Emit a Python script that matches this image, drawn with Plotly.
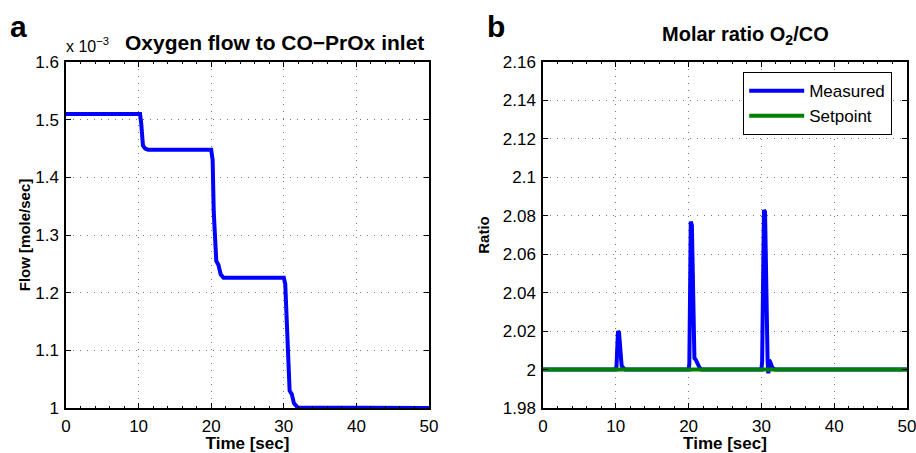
import plotly.graph_objects as go

# Panel a: oxygen flow (x 1e-3 mole/sec)
flow_time = [0, 10.2, 10.35, 10.45, 10.6, 10.9, 11.3, 20.0, 20.2, 20.35, 20.5, 20.7, 21.0, 21.3, 21.7, 30.0, 30.2, 30.4, 30.6, 30.8, 31.1, 31.4, 31.9, 50]
flow_vals = [1.51, 1.51, 1.495, 1.47, 1.455, 1.45, 1.448, 1.448, 1.43, 1.34, 1.28, 1.255, 1.248, 1.232, 1.226, 1.226, 1.215, 1.15, 1.06, 1.03, 1.024, 1.008, 1.001, 1.0]

# Panel b: molar ratio O2/CO
ratio_time = [0, 10.0, 10.1, 10.2, 10.3, 10.45, 10.55, 10.65, 10.8, 11.0, 11.3, 20.0, 20.1, 20.2, 20.3, 20.45, 20.55, 20.65, 20.8, 21.0, 21.2, 21.5, 21.8, 30.0, 30.1, 30.2, 30.35, 30.5, 30.6, 30.7, 30.85, 30.95, 31.05, 31.2, 31.5, 31.9, 50]
ratio_meas = [2.0, 2.0, 2.002, 2.01, 2.02, 2.019, 2.012, 2.004, 2.002, 2.001, 2.0, 2.0, 2.003, 2.04, 2.077, 2.075, 2.05, 2.02, 2.006, 2.005, 2.003, 2.001, 2.0, 2.0, 2.004, 2.05, 2.083, 2.082, 2.05, 2.02, 2.005, 1.998, 2.005, 2.004, 2.001, 2.0, 2.0]
setpoint_time = [0, 50]
setpoint_vals = [2.0, 2.0]

x_ticks = [0, 10, 20, 30, 40, 50]
flow_ticks = [1, 1.1, 1.2, 1.3, 1.4, 1.5, 1.6]
flow_labels = ["1", "1.1", "1.2", "1.3", "1.4", "1.5", "1.6"]
ratio_ticks = [1.98, 2.0, 2.02, 2.04, 2.06, 2.08, 2.1, 2.12, 2.14, 2.16]
ratio_labels = ["1.98", "2", "2.02", "2.04", "2.06", "2.08", "2.1", "2.12", "2.14", "2.16"]

FONT = "Liberation Sans, Arial, Helvetica, sans-serif"

fig = go.Figure()
fig.add_trace(go.Scatter(x=flow_time, y=flow_vals, mode="lines",
                         line=dict(color="#0000ff", width=4), showlegend=False,
                         xaxis="x", yaxis="y"))
fig.add_trace(go.Scatter(x=ratio_time, y=ratio_meas, mode="lines", name="Measured",
                         line=dict(color="#0000ff", width=4), xaxis="x2", yaxis="y2"))
fig.add_trace(go.Scatter(x=setpoint_time, y=setpoint_vals, mode="lines", name="Setpoint",
                         line=dict(color="#008000", width=4), xaxis="x2", yaxis="y2"))

ax_common = dict(showline=True, linecolor="black", linewidth=1.5, mirror="ticks",
                 ticks="inside", ticklen=5, tickcolor="black", automargin=False,
                 ticklabeloverflow="allow",
                 showgrid=True, gridcolor="#777777", griddash="1px,6px", gridwidth=1,
                 zeroline=False, tickfont=dict(family=FONT, size=17, color="black"))
minor = dict(ticks="inside", ticklen=2, dtick=2, tickcolor="black", showgrid=False)

fy0, fy1 = 45/453, 391/453
fig.update_layout(
    width=916, height=453,
    margin=dict(l=0, r=0, t=0, b=0),
    paper_bgcolor="white", plot_bgcolor="white",
    font=dict(family=FONT, color="black"),
    xaxis=dict(domain=[66/916, 429/916], range=[0, 50], tickvals=x_ticks, anchor="y",
               minor=minor, ticklabelstandoff=2,
               title=dict(text="<b>Time [sec]</b>", font=dict(size=17), standoff=4), **ax_common),
    yaxis=dict(domain=[fy0, fy1], range=[1, 1.6], tickvals=flow_ticks, ticktext=flow_labels,
               anchor="x", ticklabelstandoff=2,
               title=dict(text="<b>Flow [mole/sec]</b>", font=dict(size=15), standoff=1), **ax_common),
    xaxis2=dict(domain=[543/916, 907/916], range=[0, 50], tickvals=x_ticks, anchor="y2",
                minor=minor, ticklabelstandoff=2,
                title=dict(text="<b>Time [sec]</b>", font=dict(size=17), standoff=4), **ax_common),
    yaxis2=dict(domain=[fy0, fy1], range=[1.98, 2.16], tickvals=ratio_ticks, ticktext=ratio_labels,
                anchor="x2", ticklabelstandoff=2,
                title=dict(text="<b>Ratio</b>", font=dict(size=15), standoff=10), **ax_common),
    legend=dict(x=892/916, y=1-72/453, xanchor="right", yanchor="top", xref="paper", yref="paper",
                bordercolor="black", borderwidth=1.2, bgcolor="white", itemwidth=55,
                font=dict(family=FONT, size=17, color="black"), tracegroupgap=0),
    showlegend=True,
    annotations=[
        dict(text="<b>a</b>", x=8/916, y=1-27/453, xref="paper", yref="paper",
             xanchor="left", yanchor="middle", showarrow=False, font=dict(size=30)),
        dict(text="<b>b</b>", x=485/916, y=1-27/453, xref="paper", yref="paper",
             xanchor="left", yanchor="middle", showarrow=False, font=dict(size=30)),
        dict(text="<b>Oxygen flow to CO\u2212PrOx inlet</b>", x=274/916, y=1-42/453,
             xref="paper", yref="paper", xanchor="center", yanchor="middle",
             showarrow=False, font=dict(size=21)),
        dict(text="<b>Molar ratio O<sub>2</sub>/CO</b>", x=745/916, y=1-36/453,
             xref="paper", yref="paper", xanchor="center", yanchor="middle",
             showarrow=False, font=dict(size=20)),
        dict(text="x 10<sup>\u22123</sup>", x=64/916, y=1-45/453, xref="paper", yref="paper",
             xanchor="left", yanchor="middle", showarrow=False, font=dict(size=16)),
    ],
)

fig.write_html("out.html", config={"displayModeBar": False},
               post_script="document.body.style.margin='0';document.body.style.padding='0';")
